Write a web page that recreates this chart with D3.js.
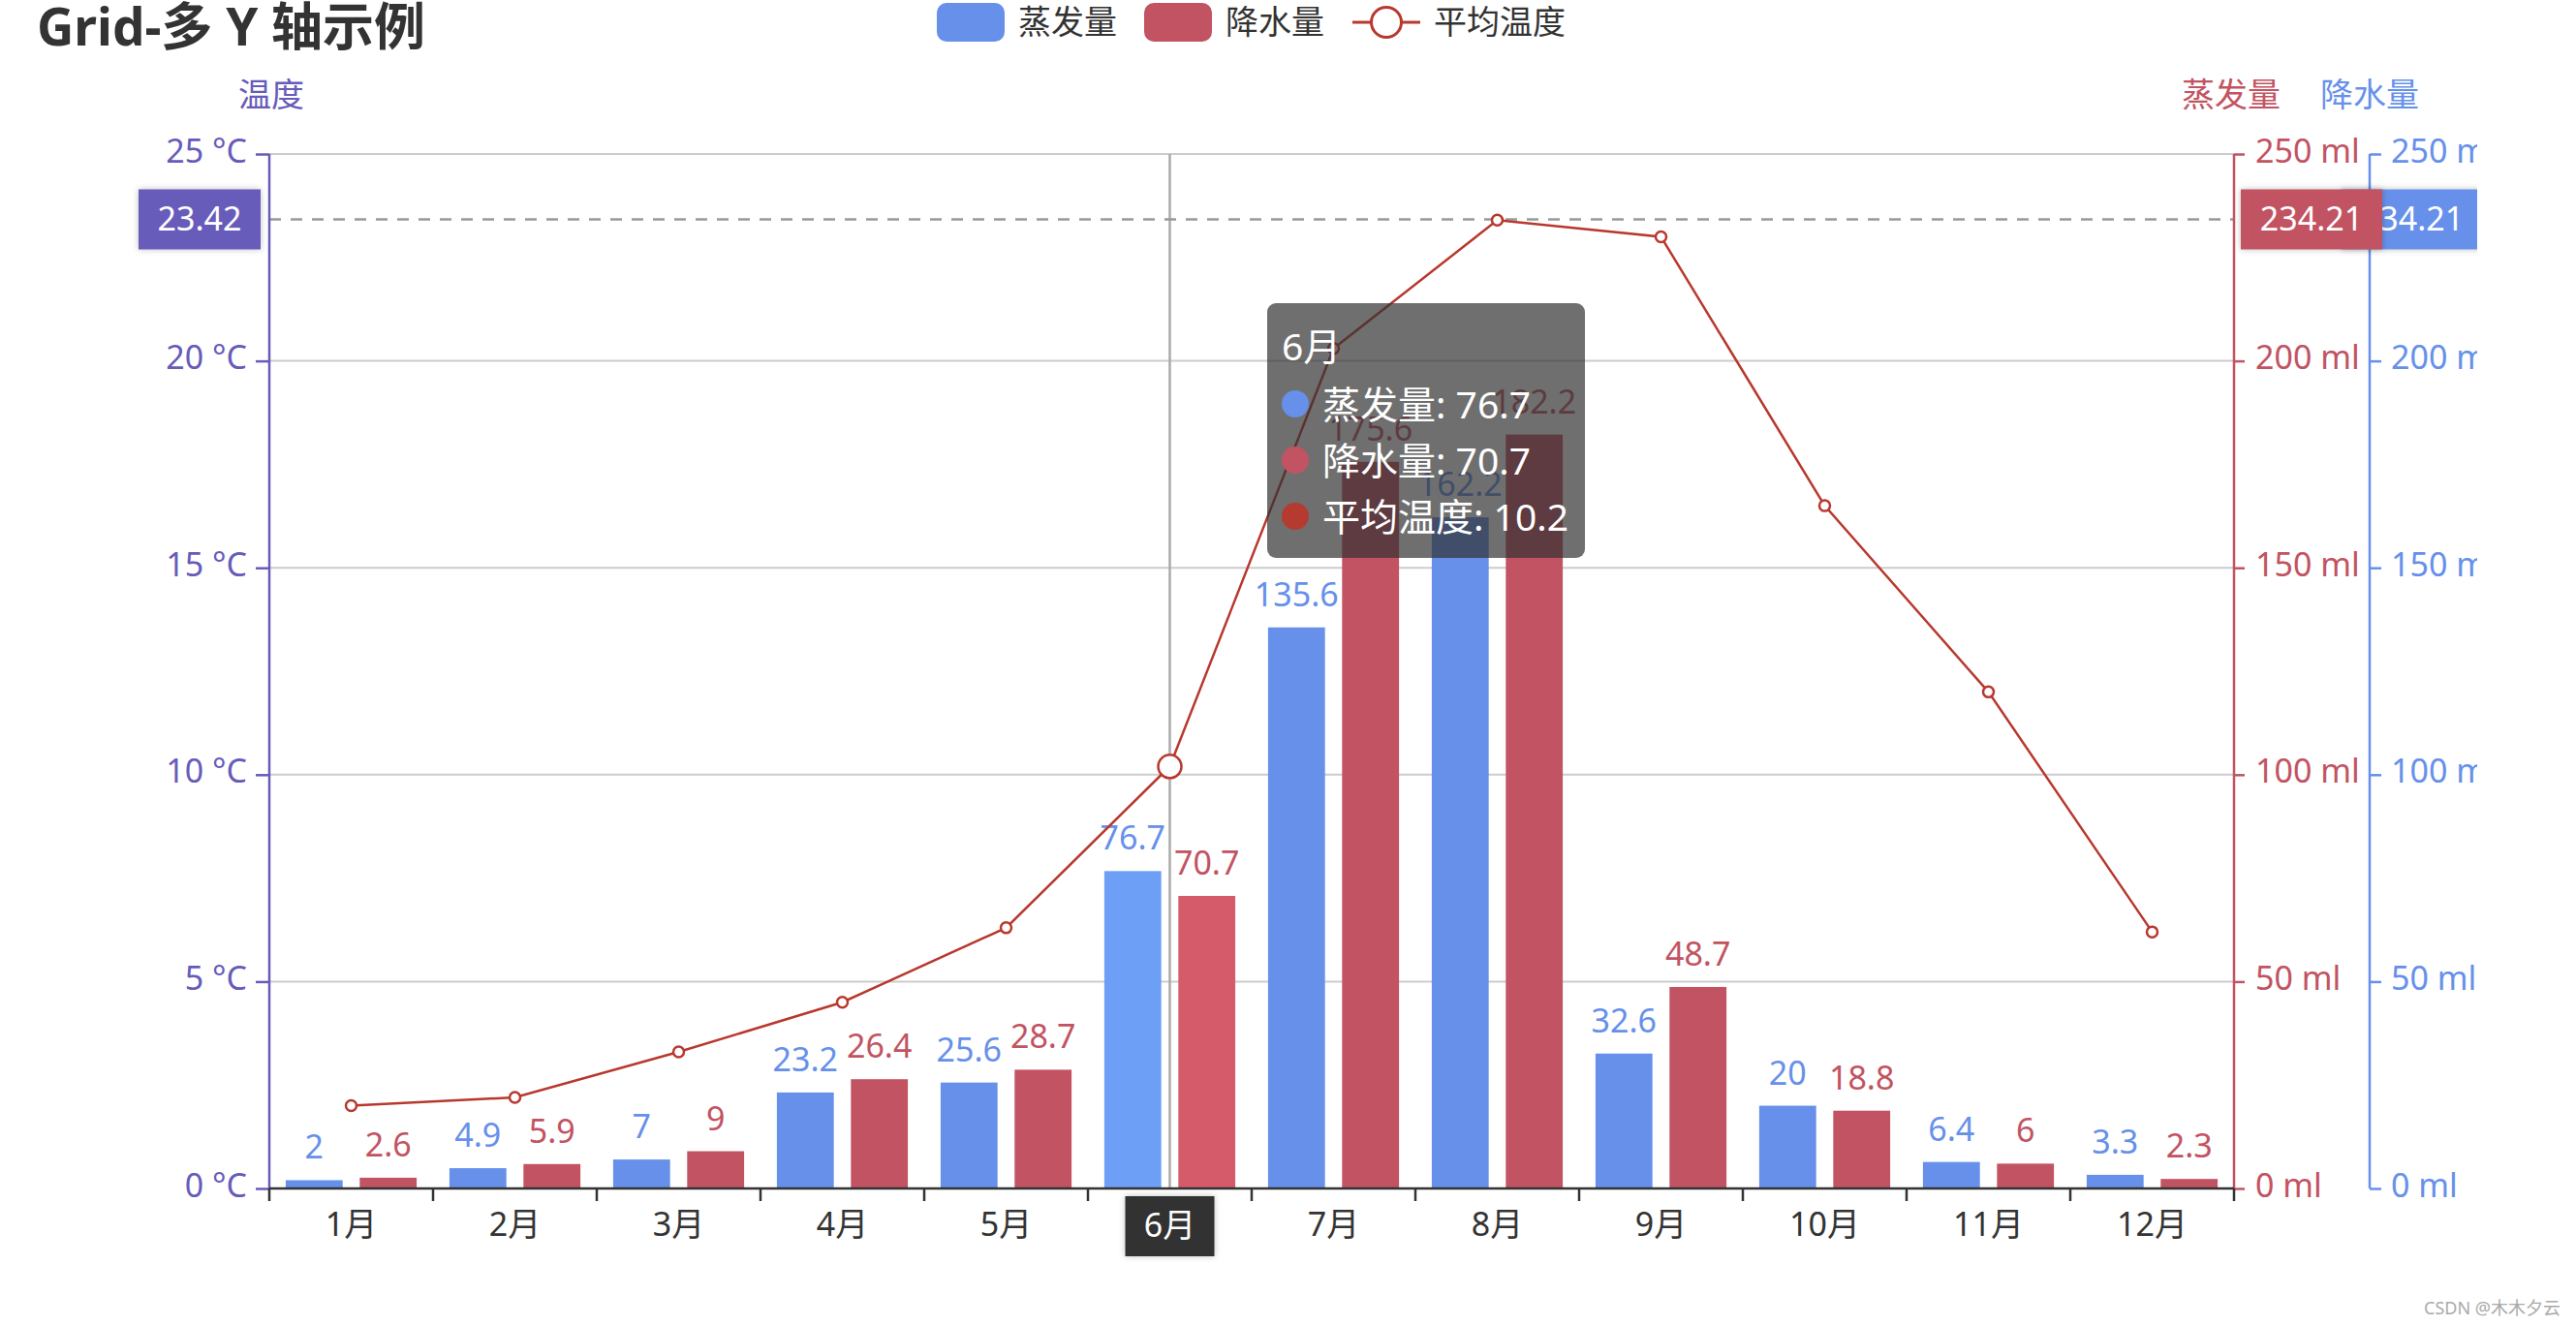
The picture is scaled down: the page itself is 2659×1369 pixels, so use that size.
<!DOCTYPE html>
<html>
<head>
<meta charset="utf-8">
<script src="https://cdn.jsdelivr.net/npm/d3@7"></script>
<style>
  html, body { margin: 0; padding: 0; background: #fff; }
  svg { display: block; }
  text { font-family: "Noto Sans", "Noto Sans CJK SC", sans-serif; }
</style>
</head>
<body>
<svg id="chart" width="2659" height="1369"></svg>
<script>
// ---------- data ----------
const months = ['1月','2月','3月','4月','5月','6月','7月','8月','9月','10月','11月','12月'];
const evaporation = [2.0, 4.9, 7.0, 23.2, 25.6, 76.7, 135.6, 162.2, 32.6, 20.0, 6.4, 3.3];
const precipitation = [2.6, 5.9, 9.0, 26.4, 28.7, 70.7, 175.6, 182.2, 48.7, 18.8, 6.0, 2.3];
const avgTemp = [2.0, 2.2, 3.3, 4.5, 6.3, 10.2, 20.3, 23.4, 23.0, 16.5, 12.0, 6.2];
const tempTicks = [0, 5, 10, 15, 20, 25];
const mlTicks = [0, 50, 100, 150, 200, 250];
const seriesNames = ['蒸发量', '降水量', '平均温度'];
const hoverIndex = 5;          // 6月
const pointerTemp = 23.42;     // axis pointer value (left axis)
const pointerMl = 234.21;      // axis pointer value (right axes)

// ---------- style ----------
const C = {
  blue: '#6690ea', blueHi: '#6e9ff7',
  red: '#c25362', redHi: '#d55b6b',
  line: '#b8382e', purple: '#675bba',
  text: '#333', grid: '#cccccc'
};
const FONT = 34;
const TIP_FONT = 39;
const FAMILY = '"Noto Sans","Noto Sans CJK SC",sans-serif';
const M = { left: 278, right: 2306, top: 159, bottom: 1227 };
const blueAxisX = 2446;

const svg = d3.select('#chart');
const defs = svg.append('defs');
defs.append('clipPath').attr('id', 'cv')
  .append('rect').attr('x', 0).attr('y', 0).attr('width', 2557).attr('height', 1369);
const f = defs.append('filter').attr('id', 'sh').attr('x', '-20%').attr('y', '-20%').attr('width', '140%').attr('height', '140%');
f.append('feDropShadow').attr('dx', 0).attr('dy', 0).attr('stdDeviation', 3).attr('flood-color', '#000').attr('flood-opacity', 0.25);

const root = svg.append('g').attr('clip-path', 'url(#cv)');

// ---------- scales ----------
const xCat = d3.scaleBand().domain(months).range([M.left, M.right]).padding(0);
const step = xCat.step();
const xSub = d3.scaleBand().domain(['evap', 'prec'])
  .range([step * 0.1, step * 0.9]).paddingInner(0.3 / 1.3).paddingOuter(0);
const yT = d3.scaleLinear().domain([0, 25]).range([M.bottom, M.top]);
const yM = d3.scaleLinear().domain([0, 250]).range([M.bottom, M.top]);

// ---------- grid ----------
root.append('g').selectAll('line').data(tempTicks).join('line')
  .attr('x1', M.left).attr('x2', M.right)
  .attr('y1', d => yT(d)).attr('y2', d => yT(d))
  .attr('stroke', C.grid).attr('stroke-width', 2);

// axis pointer lines
const cx = xCat(months[hoverIndex]) + step / 2;
root.append('line').attr('x1', cx).attr('x2', cx).attr('y1', M.top).attr('y2', M.bottom)
  .attr('stroke', '#aaa').attr('stroke-width', 2.5);
root.append('line').attr('x1', M.left).attr('x2', M.right)
  .attr('y1', yT(pointerTemp)).attr('y2', yT(pointerTemp))
  .attr('stroke', '#999').attr('stroke-width', 2.5).attr('stroke-dasharray', '12,10');

// ---------- bars ----------
const barData = months.map((m, i) => ({ m, i, evap: evaporation[i], prec: precipitation[i] }));
const gBars = root.append('g');
const seriesDefs = [
  { key: 'evap', color: C.blue, hi: C.blueHi },
  { key: 'prec', color: C.red, hi: C.redHi }
];
seriesDefs.forEach(s => {
  gBars.append('g').selectAll('rect').data(barData).join('rect')
    .attr('x', d => xCat(d.m) + xSub(s.key))
    .attr('width', xSub.bandwidth())
    .attr('y', d => yM(d[s.key]))
    .attr('height', d => yM(0) - yM(d[s.key]))
    .attr('fill', d => d.i === hoverIndex ? s.hi : s.color);
  gBars.append('g').selectAll('text').data(barData).join('text')
    .attr('x', d => xCat(d.m) + xSub(s.key) + xSub.bandwidth() / 2)
    .attr('y', d => yM(d[s.key]) - 22)
    .attr('text-anchor', 'middle')
    .attr('font-size', FONT)
    .attr('fill', s.color)
    .text(d => String(d[s.key]));
});

// ---------- line ----------
const lineGen = d3.line().x((d, i) => xCat(months[i]) + step / 2).y(d => yT(d));
root.append('path').datum(avgTemp).attr('d', lineGen)
  .attr('fill', 'none').attr('stroke', C.line).attr('stroke-width', 2.5);
root.append('g').selectAll('circle').data(avgTemp).join('circle')
  .attr('cx', (d, i) => xCat(months[i]) + step / 2)
  .attr('cy', d => yT(d))
  .attr('r', (d, i) => i === hoverIndex ? 12 : 5.5)
  .attr('fill', '#fff').attr('stroke', C.line).attr('stroke-width', 2.5);

// ---------- axes ----------
function styleAxis(g, color) {
  g.select('.domain').remove();
  g.selectAll('.tick line').attr('stroke', color).attr('stroke-width', 2.5);
  g.selectAll('.tick text').attr('fill', color).attr('font-size', FONT)
    .attr('font-family', FAMILY)
    .attr('dy', '0.24em');
}
// left temperature axis
const gL = root.append('g').attr('transform', `translate(${M.left},0)`)
  .call(d3.axisLeft(yT).tickValues(tempTicks).tickSize(14).tickPadding(9).tickFormat(d => d + ' °C'));
styleAxis(gL, C.purple);
gL.append('line').attr('x1', 0).attr('x2', 0).attr('y1', M.top).attr('y2', M.bottom)
  .attr('stroke', C.purple).attr('stroke-width', 2.5);
gL.append('text').attr('x', 2).attr('y', 110).attr('text-anchor', 'middle')
  .attr('font-size', FONT).attr('fill', C.purple).text('温度');

// right red axis (蒸发量)
const gR = root.append('g').attr('transform', `translate(${M.right},0)`)
  .call(d3.axisRight(yM).tickValues(mlTicks).tickSize(11).tickPadding(11).tickFormat(d => d + ' ml'));
styleAxis(gR, C.red);
gR.append('line').attr('x1', 0).attr('x2', 0).attr('y1', M.top).attr('y2', M.bottom)
  .attr('stroke', C.red).attr('stroke-width', 2.5);
gR.append('text').attr('x', -3).attr('y', 110).attr('text-anchor', 'middle')
  .attr('font-size', FONT).attr('fill', C.red).text(seriesNames[0]);

// right blue axis (降水量)
const gB = root.append('g').attr('transform', `translate(${blueAxisX},0)`)
  .call(d3.axisRight(yM).tickValues(mlTicks).tickSize(12).tickPadding(10).tickFormat(d => d + ' ml'));
styleAxis(gB, C.blue);
gB.append('line').attr('x1', 0).attr('x2', 0).attr('y1', M.top).attr('y2', M.bottom)
  .attr('stroke', C.blue).attr('stroke-width', 2.5);
gB.append('text').attr('x', 0).attr('y', 110).attr('text-anchor', 'middle')
  .attr('font-size', FONT).attr('fill', C.blue).text(seriesNames[1]);

// x axis
const gX = root.append('g').attr('transform', `translate(0,${M.bottom})`);
gX.append('line').attr('x1', M.left).attr('x2', M.right).attr('y1', 0).attr('y2', 0)
  .attr('stroke', C.text).attr('stroke-width', 2.5);
const boundaries = months.map(m => xCat(m)).concat([xCat(months[months.length - 1]) + step]);
gX.selectAll('line.tk').data(boundaries).join('line').attr('class', 'tk')
  .attr('x1', d => d).attr('x2', d => d).attr('y1', 0).attr('y2', 13)
  .attr('stroke', C.text).attr('stroke-width', 2.5);
gX.selectAll('text').data(months).join('text')
  .attr('x', d => xCat(d) + step / 2).attr('y', 49)
  .attr('text-anchor', 'middle').attr('font-size', FONT).attr('fill', C.text)
  .text(d => d);

// ---------- axis pointer labels ----------
function pointerLabel(x, y, w, h, fill, label) {
  const g = root.append('g');
  g.append('rect').attr('x', x).attr('y', y).attr('width', w).attr('height', h)
    .attr('fill', fill).attr('filter', 'url(#sh)');
  g.append('text').attr('x', x + w / 2).attr('y', y + h / 2 + 12)
    .attr('text-anchor', 'middle').attr('font-size', FONT).attr('fill', '#fff').text(label);
}
const py = yT(pointerTemp);
pointerLabel(143, py - 31, 126, 62, C.purple, String(pointerTemp));
pointerLabel(2417, py - 31, 146, 62, C.blue, String(pointerMl));
pointerLabel(2313, py - 31, 146, 62, C.red, String(pointerMl));
// x axis pointer label
(function () {
  const g = root.append('g');
  g.append('rect').attr('x', cx - 46).attr('y', M.bottom + 8).attr('width', 92).attr('height', 62)
    .attr('fill', C.text).attr('filter', 'url(#sh)');
  g.append('text').attr('x', cx).attr('y', M.bottom + 50).attr('text-anchor', 'middle')
    .attr('font-size', FONT).attr('fill', '#fff').text(months[hoverIndex]);
})();

// ---------- tooltip ----------
(function () {
  const tx = 1308, ty = 313, tw = 328, th = 263;
  const g = svg.append('g');
  g.append('rect').attr('x', tx).attr('y', ty).attr('width', tw).attr('height', th)
    .attr('rx', 9).attr('fill', 'rgba(50,50,50,0.7)');
  g.append('text').attr('x', tx + 15).attr('y', ty + 59).attr('font-size', TIP_FONT).attr('fill', '#fff')
    .text(months[hoverIndex]);
  const rows = [
    { name: seriesNames[0], v: evaporation[hoverIndex], c: C.blue },
    { name: seriesNames[1], v: precipitation[hoverIndex], c: C.red },
    { name: seriesNames[2], v: avgTemp[hoverIndex], c: '#b53b30' }
  ];
  rows.forEach((r, i) => {
    const by = ty + 119 + i * 58;
    g.append('circle').attr('cx', tx + 29).attr('cy', by - 15).attr('r', 14).attr('fill', r.c);
    g.append('text').attr('x', tx + 57).attr('y', by).attr('font-size', TIP_FONT).attr('fill', '#fff')
      .text(r.name + ': ' + r.v);
  });
})();

// ---------- legend ----------
(function () {
  const g = svg.append('g');
  const items = [
    { name: seriesNames[0], type: 'bar', c: C.blue, x: 967 },
    { name: seriesNames[1], type: 'bar', c: C.red, x: 1181 },
    { name: seriesNames[2], type: 'line', c: C.line, x: 1396 }
  ];
  items.forEach(it => {
    if (it.type === 'bar') {
      g.append('rect').attr('x', it.x).attr('y', 3).attr('width', 70).attr('height', 40)
        .attr('rx', 10).attr('fill', it.c);
    } else {
      g.append('line').attr('x1', it.x).attr('x2', it.x + 70).attr('y1', 23).attr('y2', 23)
        .attr('stroke', it.c).attr('stroke-width', 3);
      g.append('circle').attr('cx', it.x + 35).attr('cy', 23).attr('r', 15.5)
        .attr('fill', '#fff').attr('stroke', it.c).attr('stroke-width', 3);
    }
    g.append('text').attr('x', it.x + 84).attr('y', 35).attr('font-size', FONT).attr('fill', C.text)
      .text(it.name);
  });
})();

// ---------- title ----------
svg.append('text').attr('x', 38).attr('y', 47).attr('font-size', 53).attr('font-weight', 'bold')
  .attr('fill', C.text).text('Grid-多 Y 轴示例');

// watermark
svg.append('text').attr('x', 2643).attr('y', 1357).attr('text-anchor', 'end')
  .attr('font-size', 18).attr('fill', '#aaa').text('CSDN @木木夕云');
</script>
</body>
</html>
